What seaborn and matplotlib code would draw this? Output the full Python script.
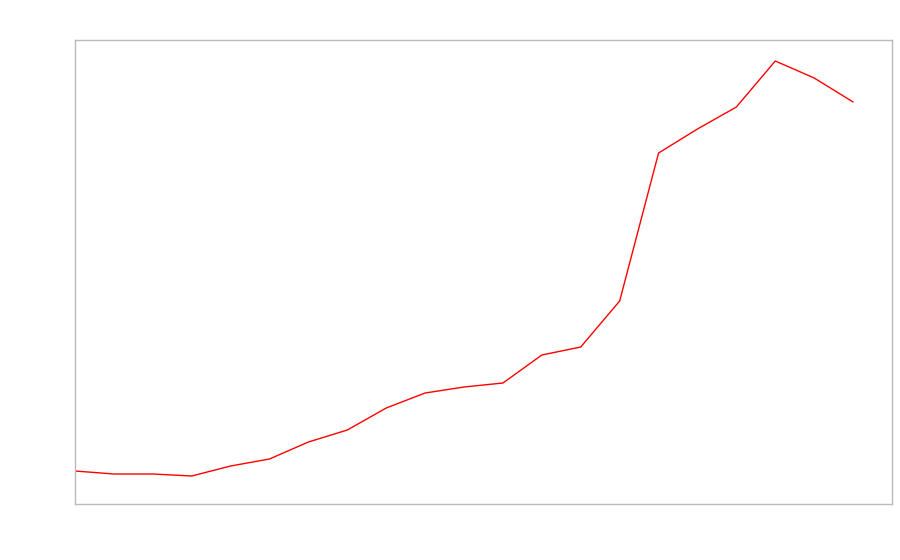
import matplotlib
matplotlib.use("Agg")
import matplotlib.pyplot as plt
import seaborn as sns
import pandas as pd

periods = list(range(21))
values = [33, 30, 30, 28, 38, 45, 62, 74, 96, 111, 117, 121, 149, 157, 203, 351, 375, 397, 443, 426, 402]

sns.set_style("white")
fig = plt.figure(figsize=(9, 5.6), dpi=100)
ax = fig.add_axes([75/900, 56/560, 817/900, 464/560])
df = pd.DataFrame({"period": periods, "value": values})
sns.lineplot(data=df, x="period", y="value", color="red", linewidth=1, ax=ax)
ax.set_xlim(0, 21)
ax.set_ylim(0, 464)
ax.set_xticks([])
ax.set_yticks([])
ax.set_xlabel("")
ax.set_ylabel("")
for s in ax.spines.values():
    s.set_color("#bbbbbb")
    s.set_linewidth(1)
fig.savefig("out.png", dpi=100)
